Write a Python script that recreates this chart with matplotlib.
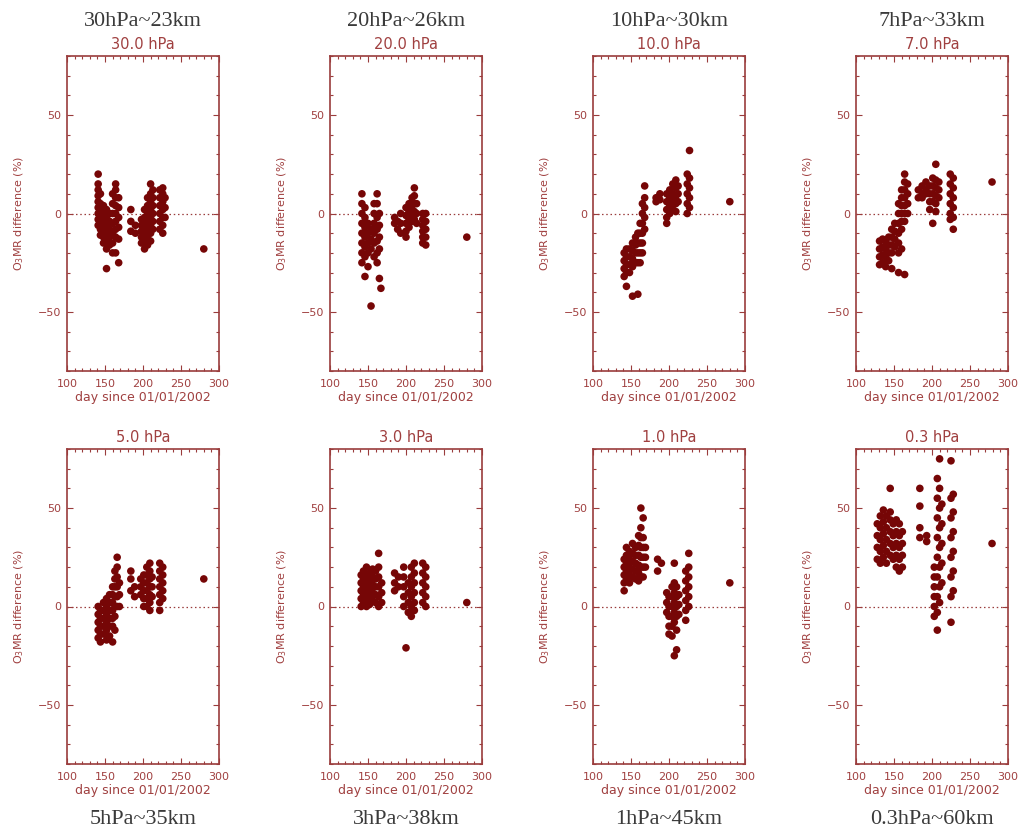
import matplotlib
matplotlib.use("Agg")
import matplotlib.pyplot as plt
from matplotlib.ticker import MultipleLocator

# ---------------- data ----------------
level_titles = ["30hPa~23km", "20hPa~26km", "10hPa~30km", "7hPa~33km",
                "5hPa~35km", "3hPa~38km", "1hPa~45km", "0.3hPa~60km"]
level_labels = ["30.0 hPa", "20.0 hPa", "10.0 hPa", "7.0 hPa",
                "5.0 hPa", "3.0 hPa", "1.0 hPa", "0.3 hPa"]

p30_days = [141, 144, 148, 152, 156, 160, 164, 168, 184, 190, 198, 202, 206, 210, 213, 222, 226, 229, 280]
p30_vals = [[20, 15, 12, 9, 6, 3, 0, -3, -6], [10, 5, 1, -2, -5, -8, -11], [4, 0, -4, -8, -12, -15],
            [2, -2, -6, -10, -14, -18, -28], [0, -4, -8, -12, -16], [10, 5, 0, -5, -10, -15, -20],
            [15, 12, 8, 4, 0, -4, -8, -12, -20], [8, 3, -2, -7, -13, -25], [2, -4, -9], [-6, -10],
            [-3, -6, -9, -12, -15], [2, -2, -6, -10, -14, -18], [8, 4, 0, -4, -8, -12, -16],
            [15, 10, 6, 2, -2, -6, -10, -14], [12, 8, 4, 0, -4, -8], [12, 8, 4, 0, -4, -8],
            [13, 10, 6, 2, -2, -6, -10], [8, 3, -2], [-18]]

p20_days = [142, 146, 150, 154, 158, 162, 165, 167, 185, 189, 193, 200, 204, 208, 211, 214, 222, 226, 280]
p20_vals = [[10, 5, 0, -5, -10, -15, -20, -25], [3, -2, -7, -12, -17, -22, -32], [-5, -10, -15, -20, -27],
            [-8, -13, -18, -47], [5, 0, -5, -10, -15, -22], [10, 5, -2, -8, -14, -20, -25],
            [0, -6, -12, -18, -33], [-38], [-2, -5], [-4, -8], [0, -5, -10], [3, -1, -5, -9, -12],
            [5, 1, -3, -7], [8, 4, 0, -4], [13, 9, 5, 1, -3], [5, 0, -5], [0, -3, -6, -9, -12, -15],
            [0, -4, -8, -12, -16], [-12]]

p10_days = [141, 144, 148, 152, 156, 159, 162, 165, 168, 183, 188, 197, 201, 205, 209, 212, 224, 227, 280]
p10_vals = [[-20, -24, -28, -32], [-18, -22, -26, -30, -37], [-18, -22, -26, -30], [-15, -19, -23, -27, -42],
            [-12, -16, -20, -25], [-10, -15, -20, -25, -41], [-5, -10, -15, -20, -25],
            [5, 0, -5, -10, -15, -20], [14, 8, 3, -2, -8], [8, 6], [7, 10], [10, 6, 2, -2, -5],
            [12, 8, 4, 0], [15, 10, 6, 2], [17, 13, 9, 5, 1], [14, 10, 6], [20, 15, 10, 5, 0],
            [32, 18, 13, 8, 3], [6]]

p7_days = [131, 135, 139, 143, 147, 151, 156, 160, 164, 168, 182, 187, 192, 197, 201, 205, 209, 224, 228, 279]
p7_vals = [[-14, -18, -22, -26], [-13, -17, -21, -25], [-14, -18, -22, -27], [-12, -16, -20, -24],
           [-8, -12, -16, -20, -28], [-5, -9, -13, -17], [5, 0, -5, -10, -15, -20, -30],
           [12, 8, 4, 0, -4, -8, -18], [20, 16, 12, 8, 4, 0, -4, -31], [15, 10, 5, 0], [8, 12],
           [10, 14, 8], [12, 16, 10], [14, 10, 6, 2], [18, 14, 10, 6, -5], [25, 17, 13, 9, 5, 1],
           [16, 12, 8], [20, 15, 10, 5, 0, -3], [18, 13, 8, 3, -2, -8], [16]]

p5_days = [141, 144, 148, 152, 156, 160, 163, 166, 169, 184, 189, 197, 201, 205, 209, 212, 222, 226, 280]
p5_vals = [[0, -4, -8, -12, -16], [-2, -6, -10, -14, -18], [2, -2, -6, -10, -14], [4, 0, -4, -8, -12, -17],
           [6, 2, -2, -6, -10, -15], [10, 6, 2, -2, -6, -10, -18], [18, 14, 10, 5, 0, -5, -12],
           [25, 20, 15, 10, 5, 0], [12, 6, 0], [18, 14, 8], [10, 5], [14, 10, 6], [16, 12, 8, 4, 0],
           [20, 16, 12, 8, 4, 0], [22, 18, 14, 10, 6, 2, -2], [15, 10, 5], [22, 18, 14, 10, 6, 2, -2],
           [20, 16, 12, 8, 4], [14]]

p3_days = [141, 144, 148, 152, 156, 160, 164, 168, 185, 190, 197, 200, 203, 207, 211, 222, 226, 280]
p3_vals = [[0, 4, 8, 12, 16], [2, 6, 10, 14, 18], [0, 4, 8, 12, 16, 20], [1, 5, 9, 13, 17],
           [3, 7, 11, 15, 19], [2, 6, 10, 14, 18], [0, 5, 10, 15, 20, 27], [2, 7, 12], [8, 12, 17],
           [10, 15], [0, 5, 10, 15, 20], [-21], [-3, 2, 7, 12], [-5, 0, 5, 10, 15, 20],
           [22, 17, 12, 7, 2, -2], [22, 17, 12, 7, 2], [20, 15, 10, 5, 0], [2]]

p1_days = [141, 144, 148, 152, 156, 160, 163, 166, 169, 185, 190, 197, 200, 204, 207, 210, 213, 222, 226, 280]
p1_vals = [[8, 12, 16, 20, 24], [14, 18, 22, 26, 30], [12, 16, 20, 24, 28], [15, 19, 23, 27, 32],
           [14, 18, 22, 26, 30], [13, 17, 21, 26, 31, 36], [15, 20, 25, 30, 35, 40, 50],
           [15, 20, 25, 30, 35, 45], [20, 25, 30], [24, 18], [22], [7, 2, -3], [5, 0, -5, -10, -14],
           [10, 5, 0, -5, -10, -15], [22, 12, 7, 2, -3, -8, -25], [10, 5, 0, -5, -12, -22], [6, 1, -4],
           [18, 13, 8, 3, -2, -7], [27, 20, 15, 10, 5, 0], [12]]

p03_days = [128, 132, 136, 140, 145, 149, 153, 157, 161, 184, 193, 203, 207, 210, 213, 225, 228, 279]
p03_vals = [[24, 30, 36, 42], [22, 28, 34, 40, 46], [25, 31, 37, 43, 49], [22, 28, 34, 40, 46],
            [60, 26, 32, 38, 44, 48], [24, 30, 36, 42], [20, 26, 32, 38, 44], [18, 24, 30, 36, 42],
            [20, 26, 32, 38], [60, 51, 40, 35], [36, 33], [20, 15, 10, 5, 0, -5],
            [65, 55, 45, 35, 25, 15, 5, -3, -12], [75, 60, 50, 40, 30, 20, 10, 2],
            [52, 42, 32, 22, 12], [74, 55, 45, 35, 25, 15, 5, -8], [57, 48, 38, 28, 18, 8], [32]]

panel_days = [p30_days, p20_days, p10_days, p7_days, p5_days, p3_days, p1_days, p03_days]
panel_vals = [p30_vals, p20_vals, p10_vals, p7_vals, p5_vals, p3_vals, p1_vals, p03_vals]

x_ticks = [100, 150, 200, 250, 300]
y_ticks = [-50, 0, 50]

# ---------------- style ----------------
FRAME = "#9a3c3c"
TEXT = "#a04040"
POINT = "#760606"
TITLE = "#3a3a3a"

W, H = 1022, 832
fig = plt.figure(figsize=(W / 100, H / 100), dpi=100)
fig.patch.set_facecolor("white")

col_left = [67, 330, 593, 856]
ax_w = 152
row_top = [56, 449]
ax_h = 315

for i in range(8):
    r, c = divmod(i, 4)
    left = col_left[c] / W
    bottom = 1 - (row_top[r] + ax_h) / H
    ax = fig.add_axes([left, bottom, ax_w / W, ax_h / H])

    xs, ys = [], []
    for d, vals in zip(panel_days[i], panel_vals[i]):
        for v in vals:
            xs.append(d)
            ys.append(v)
    ax.scatter(xs, ys, s=30, color=POINT, edgecolors="none", zorder=3)
    ax.plot([100, 300], [0, 0], linestyle=(0, (1.2, 2.2)), color=FRAME, lw=0.9, zorder=2)

    ax.set_xlim(100, 300)
    ax.set_ylim(-80, 80)
    ax.set_xticks(x_ticks)
    ax.set_yticks(y_ticks)
    ax.xaxis.set_minor_locator(MultipleLocator(10))
    ax.yaxis.set_minor_locator(MultipleLocator(10))
    ax.tick_params(which="both", direction="in", top=True, right=True, color=FRAME, width=0.8)
    ax.tick_params(which="major", length=4.5, labelsize=8, labelcolor=TEXT)
    ax.tick_params(which="minor", length=2.5)
    ax.tick_params(axis="x", which="major", pad=6)
    ax.tick_params(axis="y", which="major", pad=4)
    for sp in ax.spines.values():
        sp.set_color(FRAME)
        sp.set_linewidth(1.2)

    ax.set_xlabel("day since 01/01/2002", fontsize=9, color=TEXT, labelpad=1)
    ax.set_ylabel("O$_3$MR difference (%)", fontsize=8, color=TEXT)
    ax.yaxis.set_label_coords(-0.27, 0.5)
    ax.set_title(level_labels[i], fontsize=10.5, color=TEXT, pad=5)

    cx = (col_left[c] + ax_w / 2) / W
    ty = 1 - 22 / H if r == 0 else 1 - 820 / H
    fig.text(cx, ty, level_titles[i], ha="center", va="center",
             fontsize=16, family="Liberation Serif", color=TITLE)

fig.savefig("out.png", dpi=100, facecolor="white")
